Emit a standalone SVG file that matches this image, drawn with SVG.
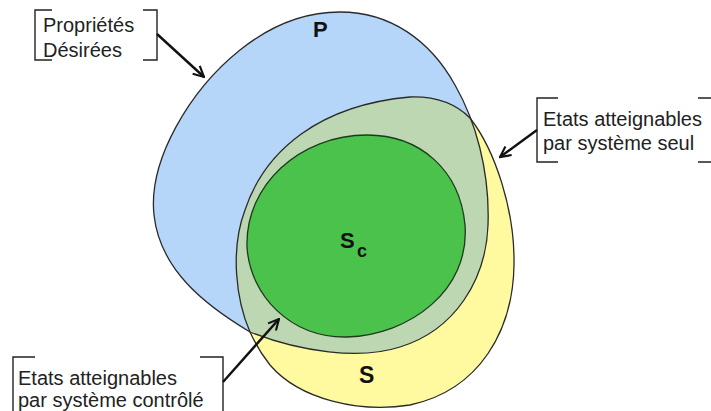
<svg xmlns="http://www.w3.org/2000/svg" width="711" height="411" viewBox="0 0 711 411">
<style>
.outline{fill:none;stroke:#2a2a2a;stroke-width:1.3}
.bracket{fill:none;stroke:#222;stroke-width:1.4}
.lbl{font-family:"Liberation Sans",Arial,sans-serif;font-size:20px;fill:#222}
.big{font-family:"Liberation Sans",Arial,sans-serif;font-weight:bold;fill:#111}
.arrow{stroke:#111;stroke-width:2.4;fill:none;marker-end:url(#ah)}
</style>
<defs>
<path id="pP" d="M250,332 C205,305 160,270 154,215 C148,160 190,90 240,50 C275,22 310,12 340,12 C390,12 430,40 455,85 C475,120 490,170 488,225 C486,280 455,330 400,347 C360,360 300,352 250,332 Z"/>
<path id="pS" d="M470,118 C495,150 515,210 514,265 C513,330 480,390 410,405 C360,413 300,400 270,365 C262,355 255,343 250,332 C236,300 230,250 245,210 C265,150 320,105 410,97 C440,96 458,106 470,118 Z"/>
<clipPath id="clipS"><use href="#pS"/></clipPath>
<marker id="ah" viewBox="0 0 10 10" refX="9" refY="5" markerWidth="5.5" markerHeight="5.5" orient="auto" markerUnits="strokeWidth">
<path d="M1,1 L9,5 L1,9" fill="none" stroke="#111" stroke-width="1.6" stroke-linejoin="miter"/>
</marker>
</defs>
<g id="node-P">
<use href="#pP" fill="#b5d6f9"/>
</g>
<g id="node-S">
<use href="#pS" fill="#fff9a0"/>
<use href="#pP" fill="#bcd7b2" clip-path="url(#clipS)"/>
<use href="#pP" class="outline"/>
<use href="#pS" class="outline"/>
<text class="big" x="313" y="37" font-size="22">P</text>
<text class="big" x="359" y="383" font-size="23">S</text>
</g>
<g id="node-Sc">
<path d="M367,135 C420,135 460,170 465,225 C470,290 410,335 347,337 C290,338 250,295 247,247 C245,185 300,135 367,135 Z" fill="#4ac24c" stroke="#1e3a1e" stroke-width="1.3"/>
<text class="big" x="340" y="248" font-size="22">S</text>
<text class="big" x="357" y="257" font-size="18">c</text>
</g>
<g id="label-proprietes">
<path class="bracket" d="M52,10 H35 V60 H52"/>
<path class="bracket" d="M143,10 H157 V60 H143"/>
<text class="lbl" x="43" y="32">Propriétés</text>
<text class="lbl" x="43" y="57">Désirées</text>
</g>
<g id="label-seul">
<path class="bracket" d="M558,98 H537 V162 H558"/>
<path class="bracket" d="M698,98 H713 V162 H698"/>
<text class="lbl" x="543" y="126">Etats atteignables</text>
<text class="lbl" x="543" y="150">par système seul</text>
</g>
<g id="label-controle">
<path class="bracket" d="M35,357 H13 V414"/>
<path class="bracket" d="M200,357 H223 V414"/>
<text class="lbl" x="18" y="385" font-size="19.5">Etats atteignables</text>
<text class="lbl" x="18" y="407" font-size="19.5">par système contrôlé</text>
</g>
<g id="connectors">
<line class="arrow" x1="157" y1="34" x2="204" y2="77"/>
<line class="arrow" x1="537" y1="130" x2="500" y2="157"/>
<line class="arrow" x1="223" y1="382" x2="279" y2="319"/>
</g>
</svg>
